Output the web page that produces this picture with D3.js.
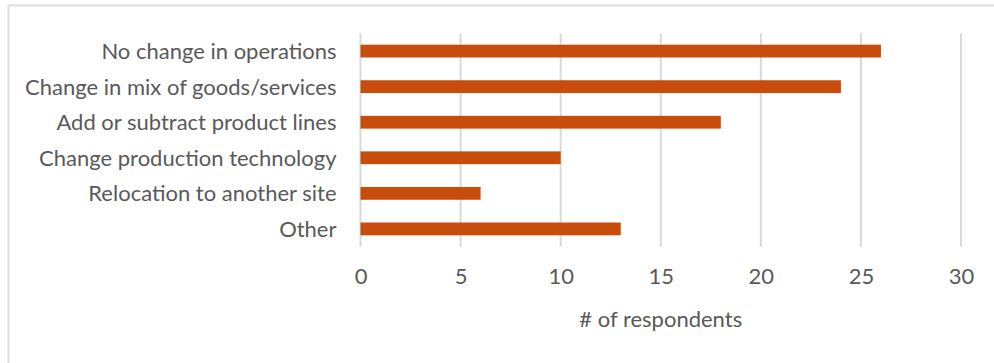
<!DOCTYPE html>
<html>
<head>
<meta charset="utf-8">
<script src="https://cdn.jsdelivr.net/npm/d3@7"></script>
<style>
  html, body { margin: 0; padding: 0; background: #ffffff; }
  svg { display: block; }
  text { font-family: Lato, "Open Sans", sans-serif; fill: #595959; }
</style>
</head>
<body>
<svg id="chart" width="994" height="363"></svg>
<script>
// Reported changes to operations, number of respondents per response
const categories = [
  "No change in operations",
  "Change in mix of goods/services",
  "Add or subtract product lines",
  "Change production technology",
  "Relocation to another site",
  "Other"
];
const respondents = [26, 24, 18, 10, 6, 13];
const xTicks = [0, 5, 10, 15, 20, 25, 30];
const xTitle = "# of respondents";

const svg = d3.select("#chart");
const W = 994, H = 363;

// Chart frame
svg.append("rect")
  .attr("x", 8.5).attr("y", 5.5)
  .attr("width", W + 20).attr("height", H + 20)
  .attr("fill", "#ffffff")
  .attr("stroke", "#dedede")
  .attr("stroke-width", 2);

const plot = { left: 360.5, right: 961, top: 33.3, bottom: 246.7 };

const x = d3.scaleLinear()
  .domain([0, 30])
  .range([plot.left, plot.right]);

const y = d3.scaleBand()
  .domain(categories)
  .range([plot.top, plot.bottom])
  .paddingInner(0.64)
  .paddingOuter(0.32);

// Vertical gridlines
svg.append("g")
  .selectAll("line")
  .data(xTicks)
  .join("line")
  .attr("x1", d => x(d)).attr("x2", d => x(d))
  .attr("y1", plot.top).attr("y2", plot.bottom)
  .attr("stroke", "#d9d9d9")
  .attr("stroke-width", 2);

// Bars
svg.append("g")
  .selectAll("rect")
  .data(categories)
  .join("rect")
  .attr("x", x(0))
  .attr("y", d => y(d))
  .attr("width", (d, i) => x(respondents[i]) - x(0))
  .attr("height", y.bandwidth())
  .attr("fill", "#c84d0c");

// Category labels
const fs = 22;
svg.append("g")
  .selectAll("text")
  .data(categories)
  .join("text")
  .attr("x", plot.left - 24)
  .attr("y", d => y(d) + y.bandwidth() / 2 + 8)
  .attr("text-anchor", "end")
  .attr("font-size", fs)
  .text(d => d);

// X axis tick labels (no domain line, no tick marks)
const xAxis = d3.axisBottom(x).tickValues(xTicks).tickSize(0).tickPadding(0);
const gx = svg.append("g")
  .attr("transform", `translate(0, ${plot.bottom})`)
  .call(xAxis);
gx.select(".domain").remove();
gx.selectAll(".tick text")
  .attr("dy", null)
  .attr("y", 37)
  .attr("font-size", fs)
  .attr("font-family", "Lato, 'Open Sans', sans-serif")
  .attr("fill", "#595959");

// Axis title
svg.append("text")
  .attr("x", (plot.left + plot.right) / 2)
  .attr("y", 327)
  .attr("text-anchor", "middle")
  .attr("font-size", fs)
  .text(xTitle);
</script>
</body>
</html>
